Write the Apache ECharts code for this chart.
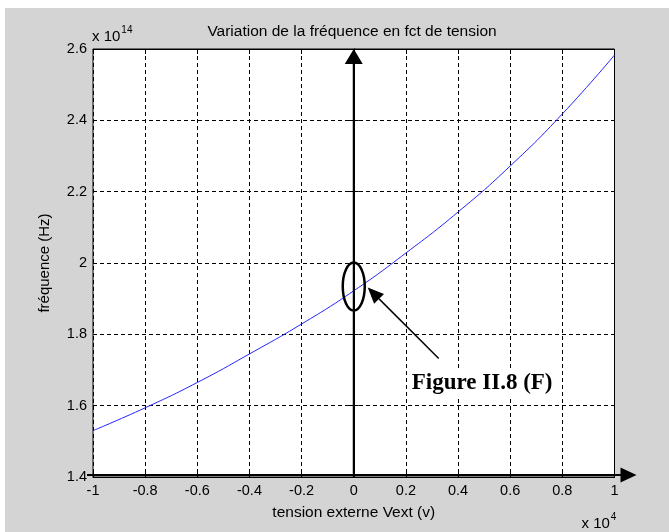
<!DOCTYPE html>
<html>
<head>
<meta charset="utf-8">
<script src="https://cdn.jsdelivr.net/npm/echarts@6/dist/echarts.min.js"></script>
<style>
  html, body { margin: 0; padding: 0; background: #ffffff; }
  #figure { position: absolute; left: 5px; top: 8px; width: 664px; height: 524px; background: #d4d4d4; }
  #chart { position: absolute; left: 0; top: 0; width: 669px; height: 532px; }
</style>
</head>
<body>
<div id="figure"></div>
<div id="chart"></div>
<script>
// External voltage (units of 1e4 V) and resulting frequency (units of 1e14 Hz)
const tension   = [-1, -0.8, -0.6, -0.4, -0.2, 0, 0.2, 0.4, 0.6, 0.8, 1];
const frequence = [1.530, 1.594, 1.665, 1.745, 1.829, 1.922, 2.028, 2.143, 2.272, 2.418, 2.583];

const xRange = [-1, 1];
const yRange = [1.4, 2.6];
const tickStep = 0.2;

// Marked operating point (V = 0)
const markX = 0;
const markY = 1.934;

const labelFont = 'Liberation Sans';
const fmt = v => String(+Number(v).toFixed(1));

const chart = echarts.init(document.getElementById('chart'), null, { renderer: 'canvas' });

const grid = { left: 93, top: 49, right: 54.5, bottom: 55 };
const dashed = { show: true, lineStyle: { color: '#000', width: 1, type: [4, 3] } };
const tickIn = { show: true, inside: true, length: 5, lineStyle: { color: '#000' } };

chart.setOption({
  backgroundColor: 'transparent',
  animation: false,
  title: {
    text: 'Variation de la fréquence en fct de tension',
    left: 347, top: 19, textAlign: 'center',
    textStyle: { fontFamily: labelFont, fontSize: 15.5, fontWeight: 'normal', color: '#000' }
  },
  grid: Object.assign({ show: true, backgroundColor: '#fff', borderColor: '#000', borderWidth: 1 }, grid),
  xAxis: [
    {
      type: 'value', min: xRange[0], max: xRange[1], interval: tickStep,
      axisLine: { show: true, lineStyle: { color: '#000' } },
      axisTick: tickIn, splitLine: dashed,
      axisLabel: { formatter: fmt, margin: 6, fontFamily: labelFont, fontSize: 14.5, color: '#000' },
      name: 'tension externe Vext (v)', nameLocation: 'middle', nameGap: 28,
      nameTextStyle: { fontFamily: labelFont, fontSize: 15.5, color: '#000' }
    },
    {
      type: 'value', position: 'top', min: xRange[0], max: xRange[1], interval: tickStep,
      axisLine: { show: true, lineStyle: { color: '#000' } },
      axisTick: tickIn, splitLine: { show: false }, axisLabel: { show: false }
    }
  ],
  yAxis: [
    {
      type: 'value', min: yRange[0], max: yRange[1], interval: tickStep,
      axisLine: { show: true, lineStyle: { color: '#000' } },
      axisTick: tickIn, splitLine: dashed,
      axisLabel: { formatter: fmt, margin: 6, fontFamily: labelFont, fontSize: 14.5, color: '#000' },
      name: 'fréquence (Hz)', nameLocation: 'middle', nameGap: 41,
      nameTextStyle: { fontFamily: labelFont, fontSize: 15, color: '#000' }
    },
    {
      type: 'value', position: 'right', min: yRange[0], max: yRange[1], interval: tickStep,
      axisLine: { show: true, lineStyle: { color: '#000' } },
      axisTick: tickIn, splitLine: { show: false }, axisLabel: { show: false }
    }
  ],
  series: [{
    type: 'line',
    data: tension.map((v, i) => [v, frequence[i]]),
    smooth: true,
    showSymbol: false,
    lineStyle: { color: '#2323ff', width: 1 },
    z: 3
  }]
});

// Overlay: exponent labels, axis arrows, marked point and caption
const px = (x, y) => chart.convertToPixel({ xAxisIndex: 0, yAxisIndex: 0 }, [x, y]);
const [x0, yTop] = px(markX, yRange[1]);
const [xLeft, yBottom] = px(xRange[0], yRange[0]);
const [xRight] = px(xRange[1], yRange[0]);
const [, yMark] = px(markX, markY);

const exponent = (x, y, base, sup) => ({
  type: 'text', x: x, y: y, z: 20,
  style: {
    text: '{b|' + base + '}{s|' + sup + '}',
    rich: {
      b: { fontFamily: labelFont, fontSize: 15, color: '#000', verticalAlign: 'bottom' },
      s: { fontFamily: labelFont, fontSize: 10, color: '#000', verticalAlign: 'top', padding: [0, 0, 9, 1] }
    }
  }
});

const hx = yBottom - 2;
const tipX = x0 + 14, tipY = yMark + 1;
const tailX = x0 + 85, tailY = yMark + 72;
const ang = Math.atan2(tipY - tailY, tipX - tailX);
const headLen = 16, headHalf = 7;
const bx = tipX - headLen * Math.cos(ang), by = tipY - headLen * Math.sin(ang);
const nx = -Math.sin(ang), ny = Math.cos(ang);

chart.setOption({
  graphic: [
    exponent(xLeft - 1, 25, 'x 10', '14'),
    exponent(xRight - 33, 512, 'x 10', '4'),
    // vertical arrow through V = 0
    { type: 'line', z: 30, shape: { x1: x0, y1: yBottom, x2: x0, y2: yTop + 12 }, style: { stroke: '#000', lineWidth: 2 } },
    { type: 'polygon', z: 30, shape: { points: [[x0, yTop], [x0 - 9, yTop + 15], [x0 + 9, yTop + 15]] }, style: { fill: '#000' } },
    // horizontal arrow along the voltage axis
    { type: 'line', z: 30, shape: { x1: xLeft - 6, y1: hx, x2: xRight + 8, y2: hx }, style: { stroke: '#000', lineWidth: 2 } },
    { type: 'polygon', z: 30, shape: { points: [[xRight + 22, hx], [xRight + 6, hx - 7.5], [xRight + 6, hx + 7.5]] }, style: { fill: '#000' } },
    // ring around the point at V = 0
    { type: 'ellipse', z: 30, shape: { cx: x0, cy: yMark, rx: 11, ry: 24 }, style: { fill: 'none', stroke: '#000', lineWidth: 2.5 } },
    // pointer from the caption to the ring
    { type: 'line', z: 30, shape: { x1: tailX, y1: tailY, x2: bx, y2: by }, style: { stroke: '#000', lineWidth: 1.5 } },
    { type: 'polygon', z: 30, shape: { points: [[tipX, tipY], [bx + nx * headHalf, by + ny * headHalf], [bx - nx * headHalf, by - ny * headHalf]] }, style: { fill: '#000' } },
    {
      type: 'text', z: 30, x: x0 + 56, y: yMark + 97,
      style: {
        text: 'Figure II.8 (F)', font: 'bold 23px "Liberation Serif"', fill: '#000',
        verticalAlign: 'middle', backgroundColor: '#fff', padding: [1, 2]
      }
    }
  ]
});
</script>
</body>
</html>
